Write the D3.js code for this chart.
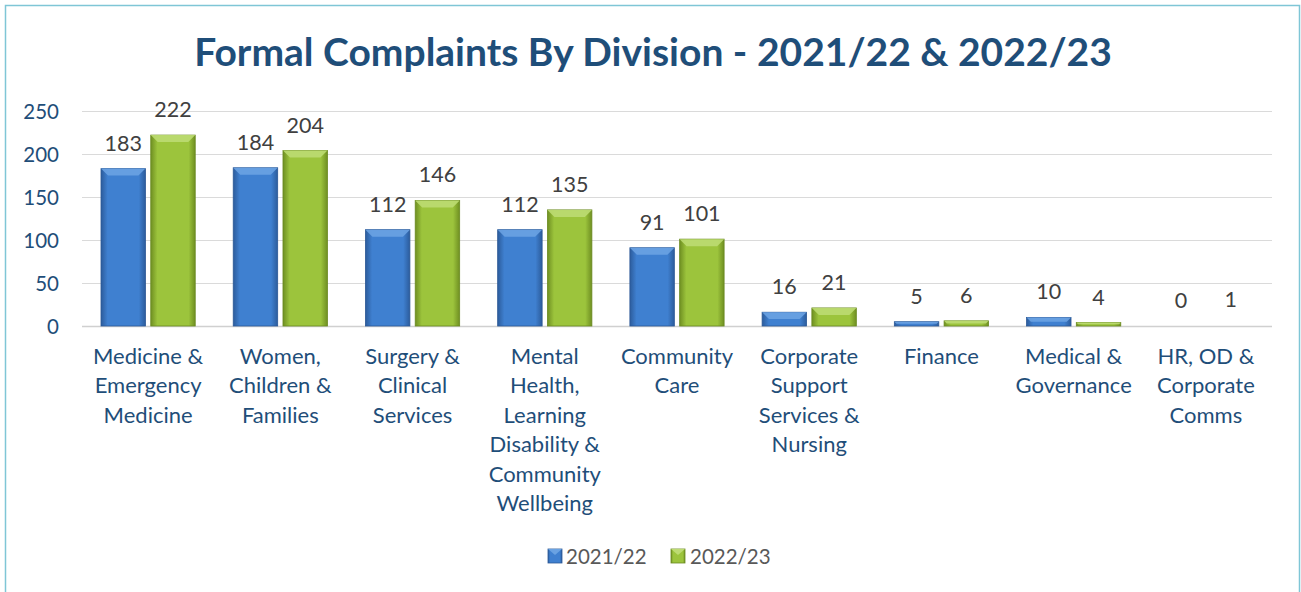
<!DOCTYPE html>
<html><head><meta charset="utf-8">
<script src="https://cdn.jsdelivr.net/npm/d3@7"></script>
<style>body{margin:0;background:#fff;}svg{display:block;}</style>
</head><body>
<svg id="c" width="1301" height="592"></svg>
<script>
const categories = [
  ["Medicine &","Emergency","Medicine"],
  ["Women,","Children &","Families"],
  ["Surgery &","Clinical","Services"],
  ["Mental","Health,","Learning","Disability &","Community","Wellbeing"],
  ["Community","Care"],
  ["Corporate","Support","Services &","Nursing"],
  ["Finance"],
  ["Medical &","Governance"],
  ["HR, OD &","Corporate","Comms"]
];
const series2122 = [183,184,112,112,91,16,5,10,0];
const series2223 = [222,204,146,135,101,21,6,4,1];
const seriesNames = ["2021/22","2022/23"];
const yTicks = [0,50,100,150,200,250];
const title = "Formal Complaints By Division - 2021/22 & 2022/23";

const svg = d3.select("#c");
const font = "Lato, 'Open Sans', sans-serif";
svg.append("rect").attr("x",5.5).attr("y",5.5).attr("width",1294).attr("height",590)
  .attr("fill","#fff").attr("stroke","#7fc6d6").attr("stroke-width",1.5);

const defs = svg.append("defs");
function grad(id, edge, mid){
  const g = defs.append("linearGradient").attr("id",id).attr("x1","0").attr("x2","1").attr("y1","0").attr("y2","0");
  g.append("stop").attr("offset","0").attr("stop-color",edge);
  g.append("stop").attr("offset","0.15").attr("stop-color",mid);
  g.append("stop").attr("offset","0.85").attr("stop-color",mid);
  g.append("stop").attr("offset","1").attr("stop-color",edge);
}
grad("gb","#2c5c9c","#3f80d0");
grad("gg","#6f8f22","#9cc43c");
const colors = [{fill:"url(#gb)",top:"#6aa2e2",stroke:"#2b5896"},{fill:"url(#gg)",top:"#bddb72",stroke:"#6a8a20"}];

const left=82, right=1272, y0=326, y250=111;
const x = d3.scaleBand().domain(d3.range(categories.length)).range([left,right]).paddingInner(0).paddingOuter(0);
const inner = d3.scaleBand().domain([0,1]).range([19, x.bandwidth()-19]).paddingInner(10/94);
const y = d3.scaleLinear().domain([0,250]).range([y0,y250]);

// gridlines
svg.append("g").selectAll("line").data(yTicks).join("line")
  .attr("x1",left).attr("x2",right).attr("y1",d=>y(d)+0.5).attr("y2",d=>y(d)+0.5)
  .attr("stroke",d=>d===0?"#d0d0d0":"#dadada").attr("stroke-width",d=>d===0?1.5:1.2);

// y axis labels
const yAxis = d3.axisLeft(y).tickValues(yTicks).tickSize(0).tickPadding(0);
const ya = svg.append("g").attr("transform",`translate(59,0)`).call(yAxis);
ya.select(".domain").remove();
ya.selectAll("text").attr("font-family",font).attr("font-size",20.5).attr("fill","#1f4e79").attr("dy","0.36em");

// bars
const data = [series2122, series2223];
data.forEach((vals,si)=>{
  const g = svg.append("g");
  vals.forEach((v,i)=>{
    const bx = x(i)+inner(si), bw = inner.bandwidth();
    const top = y(v), h = y0-top;
    if(h>2){
      g.append("rect").attr("x",bx).attr("y",top).attr("width",bw).attr("height",h)
        .attr("fill",colors[si].fill).attr("stroke",colors[si].stroke).attr("stroke-width",0.8);
      const bev = Math.min(7, h/2, bw/2);
      if(h>3){
        g.append("path").attr("d",`M${bx},${top}L${bx+bw},${top}L${bx+bw-bev},${top+bev}L${bx+bev},${top+bev}Z`)
          .attr("fill",colors[si].top).attr("opacity",0.9);
      }
    }
    svg.append("text").attr("x",bx+bw/2).attr("y",top-18).attr("text-anchor","middle")
      .attr("font-family",font).attr("font-size",21.5).attr("fill","#404040").text(v);
  });
});

// category labels
categories.forEach((lines,i)=>{
  const t = svg.append("text").attr("x",x(i)+x.bandwidth()/2).attr("text-anchor","middle")
    .attr("font-family",font).attr("font-size",22).attr("fill","#1f4e79");
  lines.forEach((l,j)=>t.append("tspan").attr("x",x(i)+x.bandwidth()/2).attr("y",364+j*29.4).text(l));
});

// title
svg.append("text").attr("x",653).attr("y",66).attr("text-anchor","middle")
  .attr("font-family",font).attr("font-weight","bold").attr("font-size",39).attr("fill","#1f4e79").text(title);

// legend
const leg = [{x:548,tx:566},{x:671,tx:690}];
seriesNames.forEach((n,i)=>{
  svg.append("rect").attr("x",leg[i].x).attr("y",549).attr("width",14).attr("height",14)
    .attr("fill",colors[i].fill).attr("stroke",colors[i].stroke).attr("stroke-width",0.8);
  svg.append("path").attr("d",`M${leg[i].x},549L${leg[i].x+14},549L${leg[i].x+7},555Z`).attr("fill",colors[i].top);
  svg.append("text").attr("x",leg[i].tx).attr("y",564).attr("font-family",font).attr("font-size",20.5)
    .attr("fill","#595959").text(n);
});
</script>
</body></html>
